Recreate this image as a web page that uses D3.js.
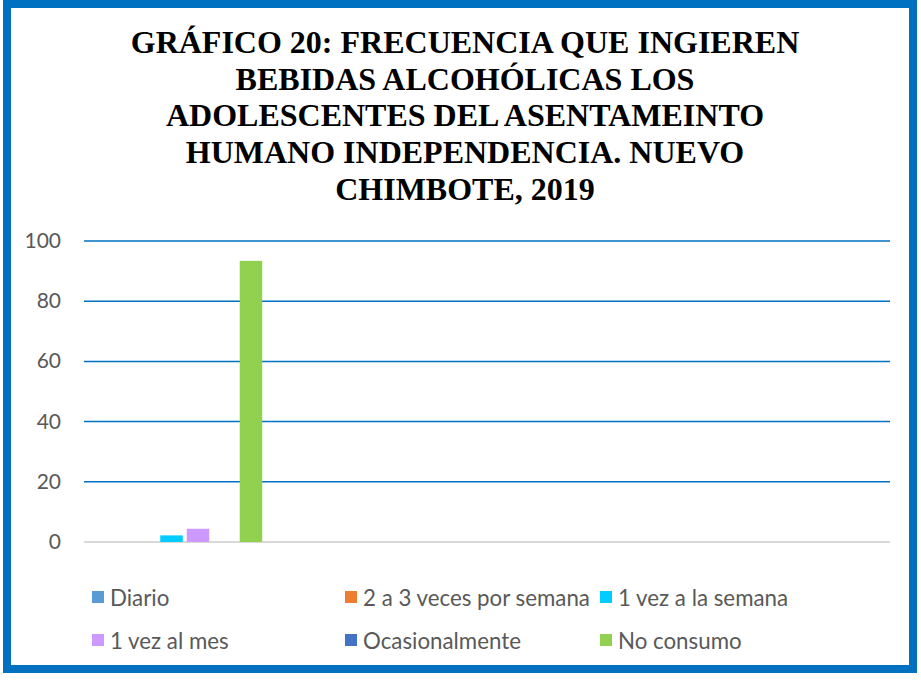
<!DOCTYPE html>
<html>
<head>
  <meta charset="utf-8">
  <title>Gráfico 20</title>
  <script src="https://d3js.org/d3.v7.min.js"></script>
  <style>
    body { margin: 0; background: #fff; }
    svg { display: block; }
    .title { font-family: "Liberation Serif", "Times New Roman", serif; font-weight: bold; font-size: 32px; fill: #000; }
    .tick-label, .legend-label { font-family: Lato, "Open Sans", sans-serif; fill: #595959; }
    .tick-label { font-size: 21px; }
    .legend-label { font-size: 22.3px; }
  </style>
</head>
<body>
  <svg id="chart" width="921" height="680"></svg>

  <script>
    // Data
    const titleLines = [
      "GRÁFICO 20: FRECUENCIA QUE INGIEREN",
      "BEBIDAS ALCOHÓLICAS LOS",
      "ADOLESCENTES DEL ASENTAMEINTO",
      "HUMANO INDEPENDENCIA. NUEVO",
      "CHIMBOTE, 2019"
    ];
    const categories = ["1", "2", "3", "4"];
    const seriesNames = ["Diario", "2 a 3 veces por semana", "1 vez a la semana",
                         "1 vez al mes", "Ocasionalmente", "No consumo"];
    const seriesColors = ["#5B9BD5", "#ED7D31", "#00CCFF", "#CC99FF", "#4472C4", "#92D050"];
    // values per series, one per category (only the first category has data)
    const seriesValues = [
      [0, null, null, null],
      [0, null, null, null],
      [2.2, null, null, null],
      [4.4, null, null, null],
      [0, null, null, null],
      [93.4, null, null, null]
    ];
    const yTicks = [0, 20, 40, 60, 80, 100];

    const svg = d3.select("#chart");

    // Frame
    svg.append("rect")
      .attr("x", 7).attr("y", 4)
      .attr("width", 906).attr("height", 665)
      .attr("fill", "none")
      .attr("stroke", "#0070C0")
      .attr("stroke-width", 8);

    // Title
    svg.append("g").selectAll("text")
      .data(titleLines)
      .join("text")
      .attr("class", "title")
      .attr("x", 465)
      .attr("y", (d, i) => 53 + i * 36.7)
      .attr("text-anchor", "middle")
      .text(d => d);

    // Scales
    const plot = { left: 84, right: 890, top: 241, bottom: 542 };
    const x0 = d3.scaleBand().domain(categories).range([plot.left, plot.right]);
    const x1 = d3.scaleBand().domain(seriesNames)
      .range([0, x0.bandwidth()]).paddingInner(0.151).paddingOuter(0.88);
    const y = d3.scaleLinear().domain([0, 100]).range([plot.bottom, plot.top]);

    // Gridlines
    svg.append("g").selectAll("line")
      .data(yTicks)
      .join("line")
      .attr("x1", plot.left).attr("x2", plot.right)
      .attr("y1", d => y(d)).attr("y2", d => y(d))
      .attr("stroke", d => d === 0 ? "#D9D9D9" : "#0070C0")
      .attr("stroke-width", d => d === 0 ? 2 : 1.5);

    // Y labels
    svg.append("g").selectAll("text")
      .data(yTicks)
      .join("text")
      .attr("class", "tick-label")
      .attr("x", 61)
      .attr("y", d => y(d) + 7)
      .attr("text-anchor", "end")
      .text(d => d);

    // Bars
    const bars = [];
    seriesNames.forEach((s, si) => {
      categories.forEach((c, ci) => {
        const v = seriesValues[si][ci];
        if (v !== null && v > 0) bars.push({ s, c, v, color: seriesColors[si] });
      });
    });
    svg.append("g").selectAll("rect")
      .data(bars)
      .join("rect")
      .attr("x", d => x0(d.c) + x1(d.s))
      .attr("width", x1.bandwidth())
      .attr("y", d => y(d.v))
      .attr("height", d => y(0) - y(d.v))
      .attr("fill", d => d.color);

    // Legend
    const legendCols = [92, 345, 600];
    const legendRows = [598, 641];
    const legend = svg.append("g").selectAll("g")
      .data(seriesNames)
      .join("g")
      .attr("transform", (d, i) => `translate(${legendCols[i % 3]},${legendRows[Math.floor(i / 3)]})`);
    legend.append("rect")
      .attr("x", 0).attr("y", -7)
      .attr("width", 12).attr("height", 12)
      .attr("fill", (d, i) => seriesColors[i]);
    legend.append("text")
      .attr("class", "legend-label")
      .attr("x", 18).attr("y", 8)
      .text(d => d);
  </script>
</body>
</html>
